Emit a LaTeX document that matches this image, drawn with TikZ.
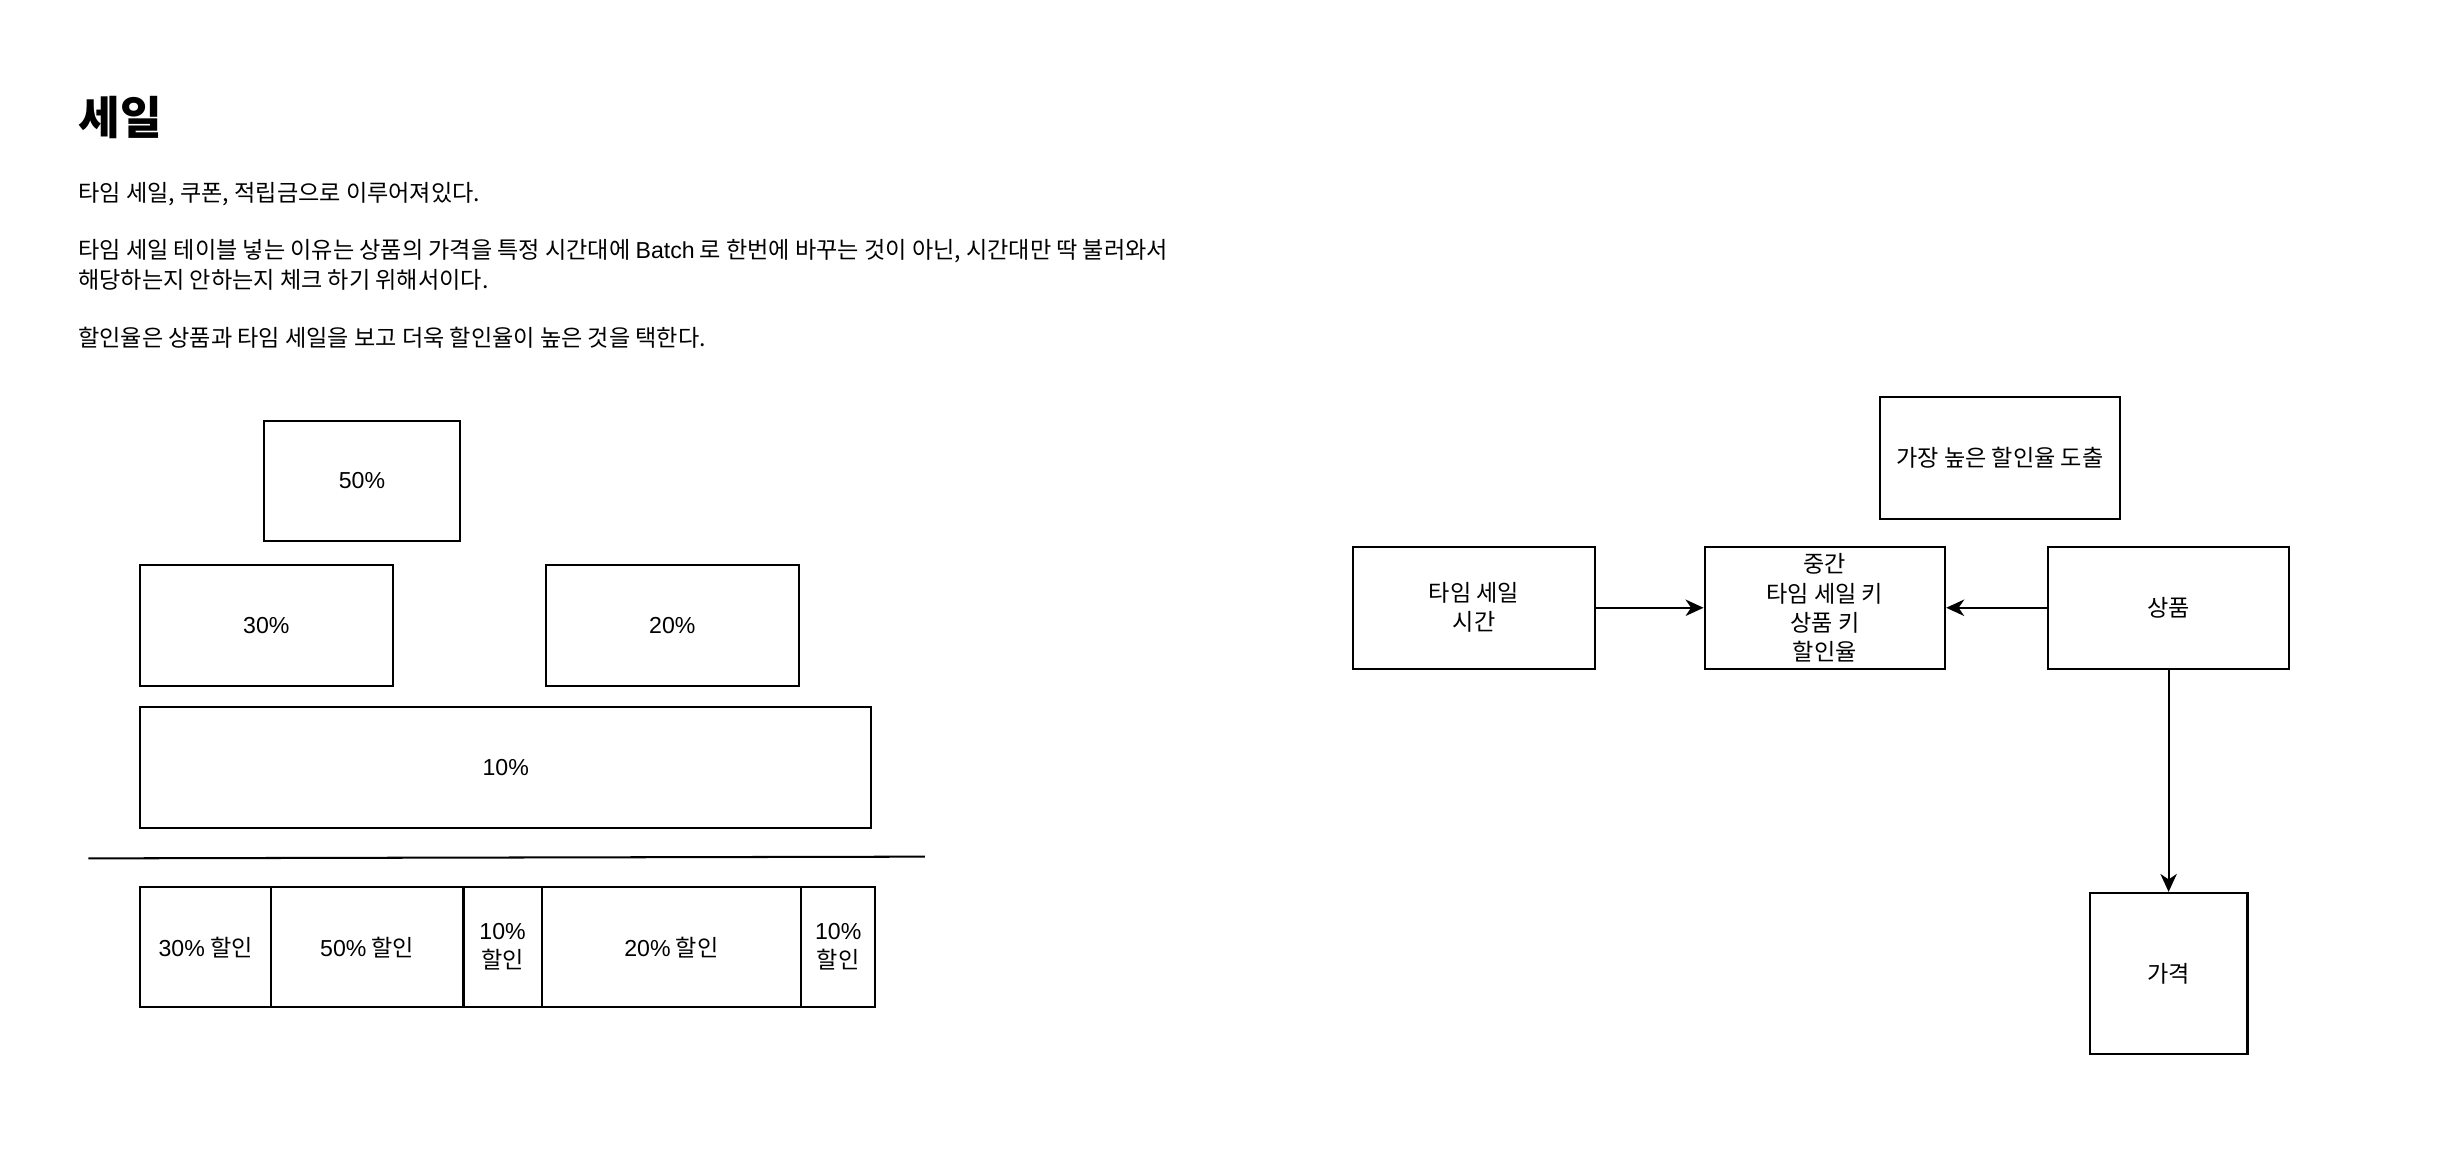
\documentclass[tikz,border=0pt]{standalone}
\usepackage{fontspec}
\setmainfont{Noto Sans CJK KR}
\newfontfamily\latinfont{Liberation Sans}
\usetikzlibrary{arrows.meta,positioning}
\tikzset{
  box/.style={draw,line width=1.3pt,inner sep=0pt,align=center},
  txt/.style={anchor=west,inner sep=0pt,align=left},
  conn/.style={line width=1.3pt,-{Stealth[length=11.5pt,width=10.5pt,inset=3.5pt]}},
}
\newcommand{\pct}[1]{{\latinfont #1\%}}

\begin{document}
\begin{tikzpicture}[x=1pt,y=-1pt,font=\fontsize{14.8}{18.6}\selectfont]
\useasboundingbox (0,0) rectangle (1563,746.3);
% heading and notes
\node[txt,font=\fontsize{29}{34}\selectfont\bfseries] (title) at (50,75) {세일};
\node[txt] (note1) at (50,124) {타임 세일, 쿠폰, 적립금으로 이루어져있다.};
\node[txt] (note2) at (50,169.5) {타임 세일 테이블 넣는 이유는 상품의 가격을 특정 시간대에 {\latinfont Batch} 로 한번에 바꾸는 것이 아닌, 시간대만 딱 불러와서\\해당하는지 안하는지 체크 하기 위해서이다.};
\node[txt] (note3) at (50,216) {할인율은 상품과 타임 세일을 보고 더욱 할인율이 높은 것을 택한다.};
% stacked discounts
\node[box,minimum width=125pt,minimum height=77pt] (b50) at (231.7,307.8) {\pct{50}};
\node[box,minimum width=162pt,minimum height=77pt] (b30) at (170.5,400.3) {\pct{30}};
\node[box,minimum width=162pt,minimum height=77pt] (b20) at (430.3,400.3) {\pct{20}};
\node[box,minimum width=468pt,minimum height=77pt] (b10) at (323.7,491.3) {\pct{10}};
\coordinate (sepL) at (56.5,549.4);
\coordinate (sepR) at (592,548.3);
\draw[line width=1.3pt] (sepL) -- (sepR);
% result row
\node[box,minimum width=83.6pt,minimum height=77pt] (r30) at (131.6,606.2) {\pct{30} 할인};
\node[box,minimum width=123.3pt,minimum height=77pt] (r50) at (235,606.2) {\pct{50} 할인};
\node[box,minimum width=50pt,minimum height=77pt] (r10a) at (321.7,606.2) {\pct{10}\\할인};
\node[box,minimum width=166pt,minimum height=77pt] (r20) at (429.7,606.2) {\pct{20} 할인};
\node[box,minimum width=47.5pt,minimum height=77pt] (r10b) at (536.5,606.2) {\pct{10}\\할인};
% tables
\node[box,minimum width=154pt,minimum height=78pt] (best) at (1280,293) {가장 높은 할인율 도출};
\node[box,minimum width=155pt,minimum height=78pt] (timesale) at (943.5,389) {타임 세일\\시간};
\node[box,minimum width=154pt,minimum height=78pt] (mid) at (1168,389) {중간\\타임 세일 키\\상품 키\\할인율};
\node[box,minimum width=154pt,minimum height=78pt] (product) at (1388,389) {상품};
\node[box,minimum width=101pt,minimum height=103pt] (price) at (1388,623) {가격};
\draw[conn] (timesale.east) -- (mid.west);
\draw[conn] (product.west) -- (mid.east);
\draw[conn] (product.south) -- (price.north);
\end{tikzpicture}
\end{document}
